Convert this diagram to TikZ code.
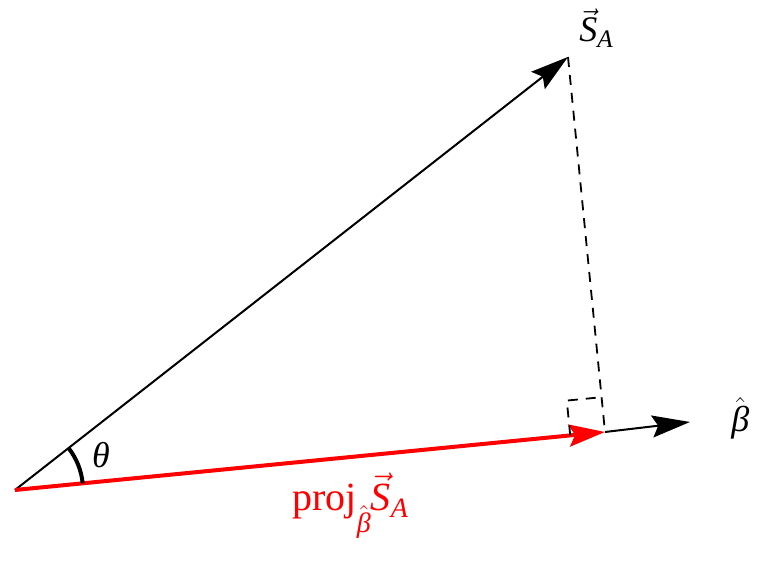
\documentclass[tikz,border=0pt]{standalone}
\usepackage{amsmath}
\usepackage{fontspec}
\setmainfont{Liberation Serif}
\usetikzlibrary{arrows.meta}

\tikzset{
    vecline/.style={line width=1pt, -{Stealth[length=19pt, width=11pt, inset=3pt]}},
    projline/.style={red, line width=2pt, -{Stealth[length=18pt, width=11pt, inset=3pt]}},
    perpline/.style={dashed, line width=0.9pt, dash pattern=on 5pt off 4pt},
    lbl/.style={font=\fontsize{18}{21}\selectfont, inner sep=0pt}
}

\begin{document}
\begin{tikzpicture}[x=0.5pt, y=0.5pt]

        \useasboundingbox (0,0) rectangle (766,565);

        \coordinate (O) at (15,75);
        \coordinate (SA) at (568,508);
        \coordinate (P) at (605,133);
        \coordinate (B) at (690,143);

        \coordinate (Q1) at (570.2,129.6);
        \coordinate (Q2) at (566.8,164.4);
        \coordinate (Q3) at (601.6,167.8);

        \draw[vecline] (O) -- (SA);
        \draw[vecline] (P) -- (B);
        \draw[projline] (O) -- (P);

        \draw[perpline] (SA) -- (P);
        \draw[perpline] (Q1) -- (Q2) -- (Q3);

        % angle between the two vectors
        \draw[line width=2pt] ([shift={(5.6:68)}]O) arc (5.6:38:68);

        \node[lbl] (theta) at (101,110) {\itshape θ};
        \node[lbl, anchor=base west] (SAlbl) at (579,523) {$\vec{\text{\itshape S}}_{\text{\itshape A}}$};
        \node[lbl, anchor=base west] (Blbl) at (731,133) {$\hat{\text{\itshape β}}$};
        \node[lbl, red, font=\fontsize{20}{24}\selectfont, anchor=base west] (projlbl) at (292,54)
            {proj\raisebox{-11pt}{\fontsize{14}{16}\selectfont$\hat{\text{\itshape β}}$}$\vec{\text{\itshape S}}_{\text{\itshape A}}$};

\end{tikzpicture}
\end{document}
